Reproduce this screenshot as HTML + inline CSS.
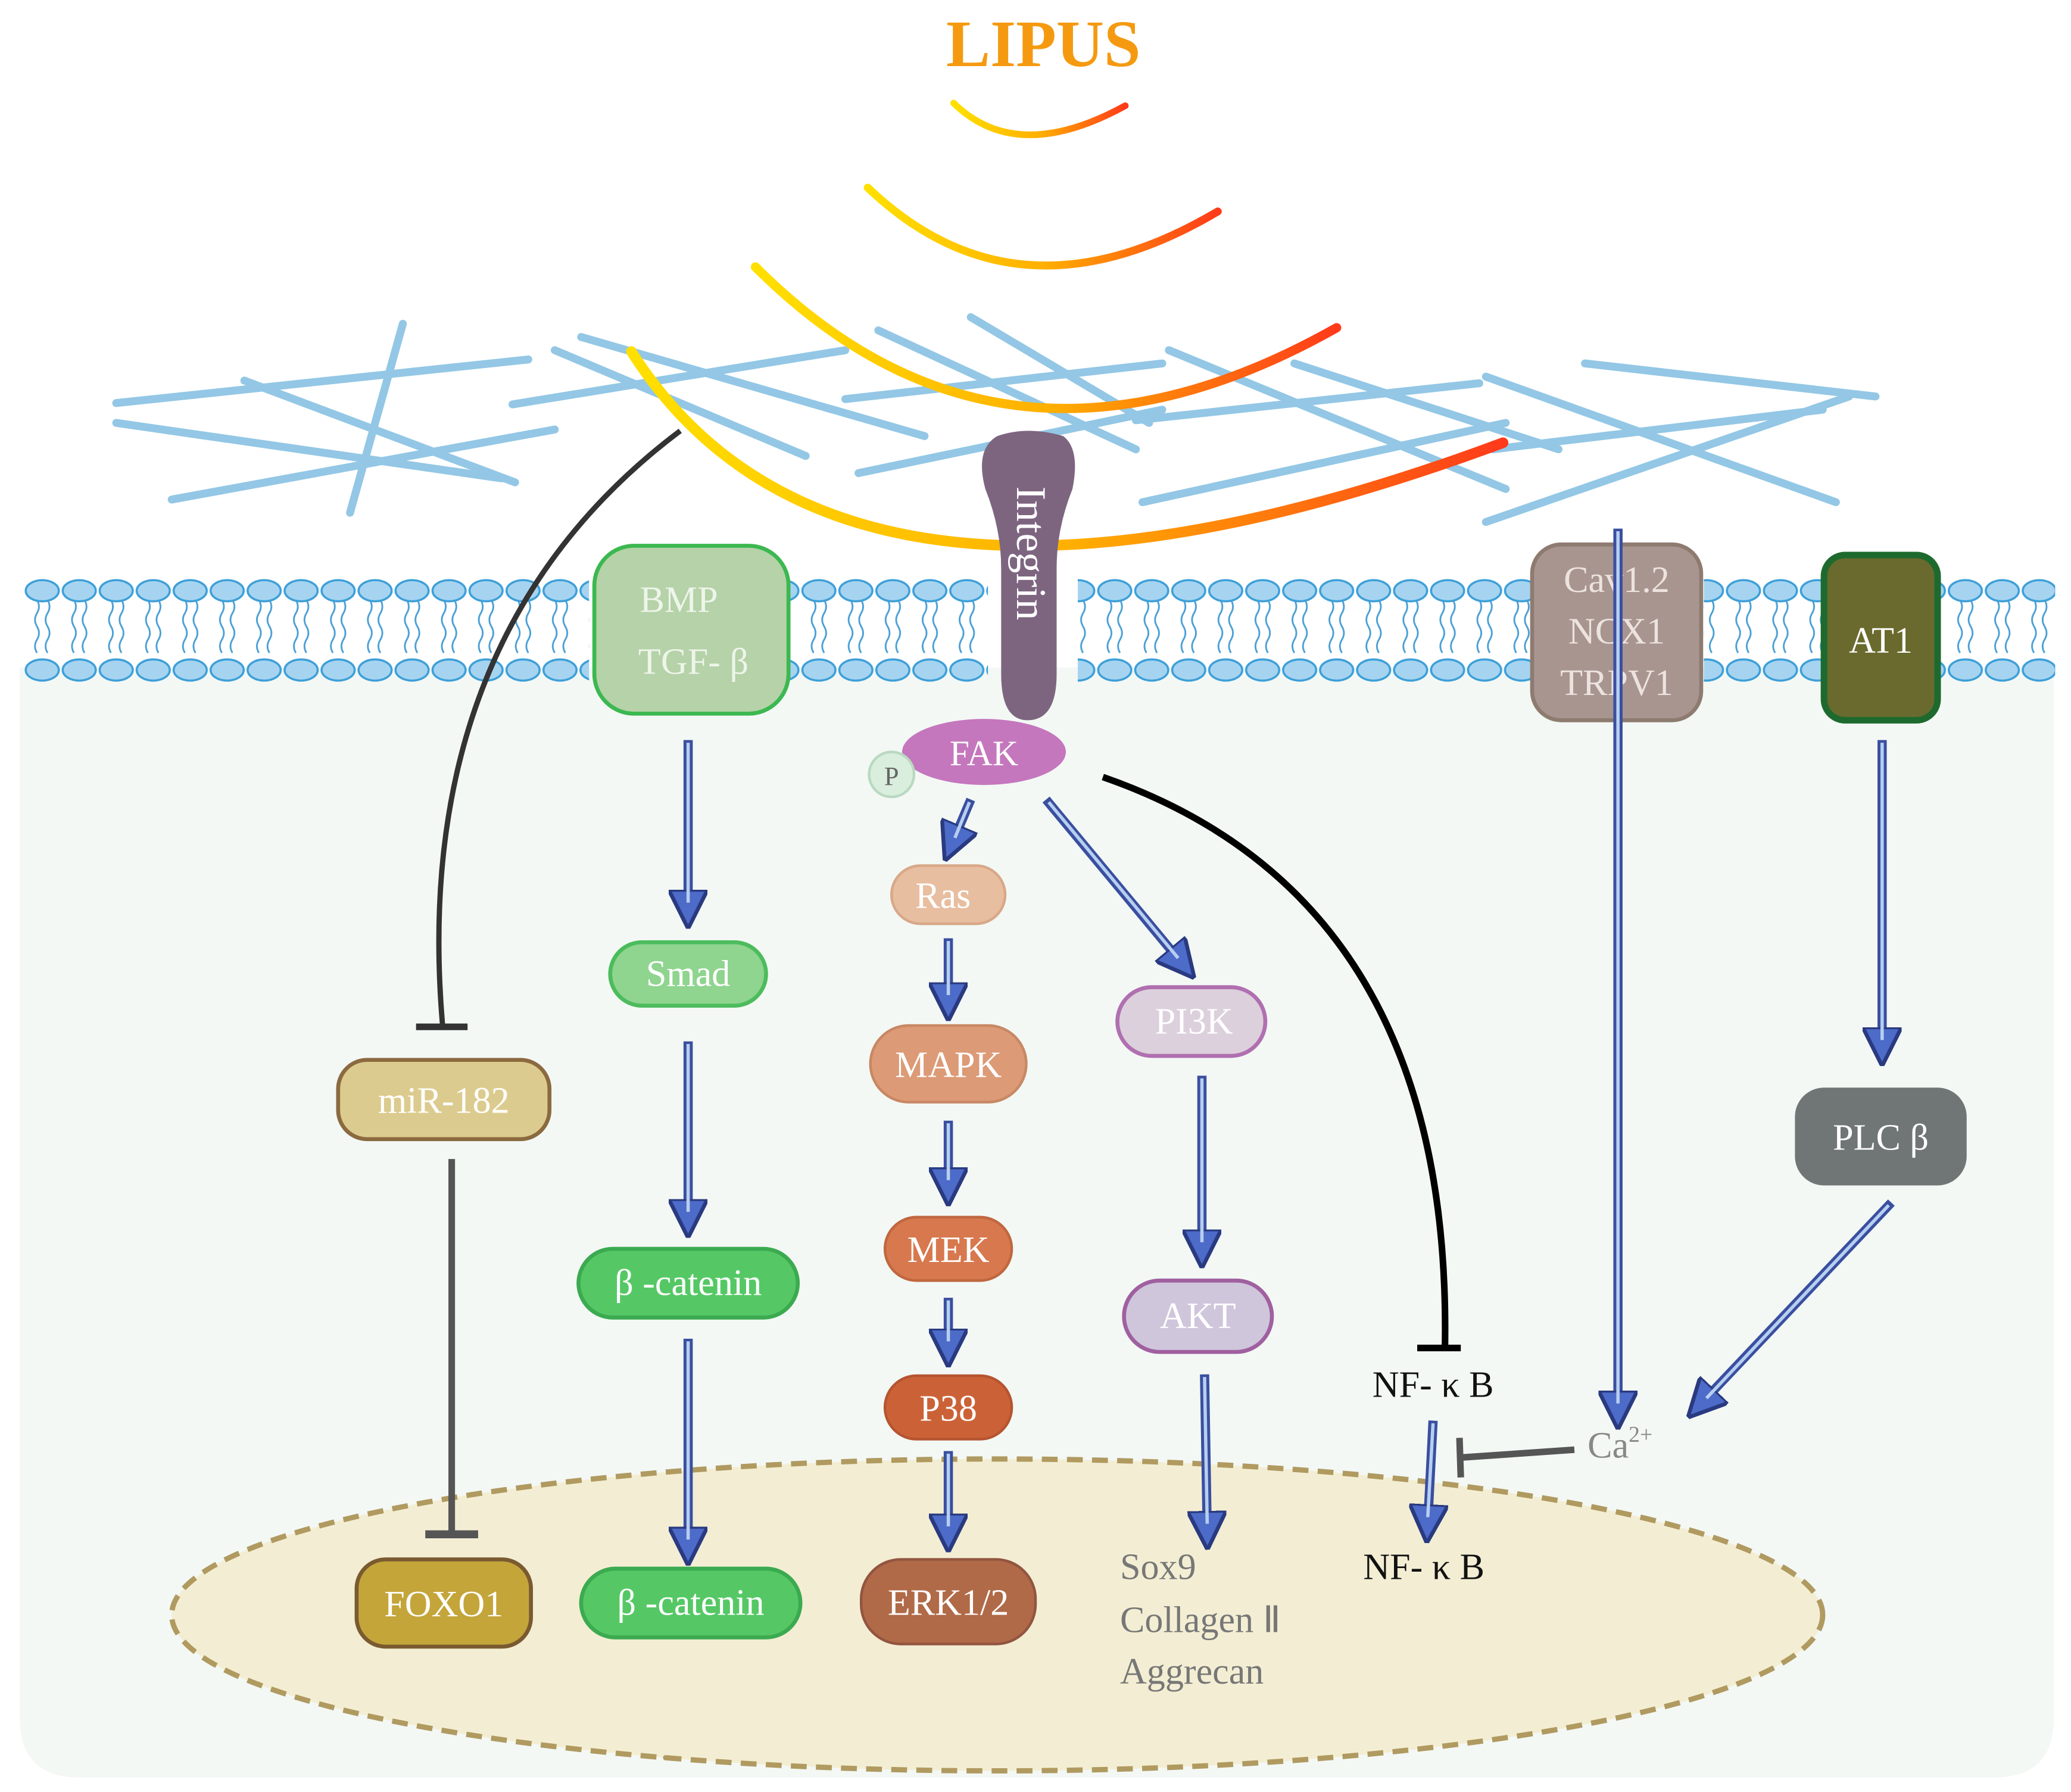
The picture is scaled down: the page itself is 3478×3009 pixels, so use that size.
<!DOCTYPE html>
<html><head><meta charset="utf-8"><style>
html,body{margin:0;padding:0;background:#fff;}
svg{display:block;}
text{font-family:"Liberation Serif",serif;}
</style></head><body>
<svg width="3478" height="3009" viewBox="0 0 1568 1356" preserveAspectRatio="none" xmlns="http://www.w3.org/2000/svg">
<defs>
<linearGradient id="wave" x1="0" y1="0" x2="1" y2="0">
<stop offset="0" stop-color="#ffe000"/><stop offset="0.5" stop-color="#ffb000"/><stop offset="1" stop-color="#ff3a1a"/>
</linearGradient>
<marker id="ah" viewBox="0 0 10 10" refX="5" refY="5" markerWidth="4.2" markerHeight="4.2" orient="auto" markerUnits="strokeWidth">
<path d="M0,0 L10,5 L0,10 z" fill="#4d6bc8" stroke="#2a3a80" stroke-width="1"/>
</marker>
<pattern id="lip" x="18" y="436" width="28" height="82" patternUnits="userSpaceOnUse">
<path d="M10,18 q3,5 0,10 q-3,5 0,10 q3,5 0,10 q-3,5 0,10 M18,18 q3,5 0,10 q-3,5 0,10 q3,5 0,10 q-3,5 0,10" fill="none" stroke="#4a9fd5" stroke-width="1.3"/>
<ellipse cx="14" cy="11" rx="12.5" ry="8" fill="#a6d4f0" stroke="#3d9fd8" stroke-width="1.6"/>
<ellipse cx="14" cy="71" rx="12.5" ry="8" fill="#a6d4f0" stroke="#3d9fd8" stroke-width="1.6"/>
</pattern>
</defs>
<rect width="1568" height="1356" fill="#fff"/>
<!-- cell -->
<path d="M15,505 L1555,505 L1555,1300 Q1555,1345 1510,1345 L60,1345 Q15,1345 15,1300 Z" fill="#f3f8f5"/>
<!-- fibers -->
<g stroke="#6fb5dd" stroke-width="6" opacity="0.75" stroke-linecap="round">
<line x1="88" y1="305" x2="400" y2="272"/><line x1="88" y1="320" x2="380" y2="362"/>
<line x1="130" y1="378" x2="420" y2="325"/><line x1="185" y1="288" x2="390" y2="365"/>
<line x1="305" y1="245" x2="265" y2="388"/><line x1="388" y1="306" x2="640" y2="265"/>
<line x1="420" y1="265" x2="610" y2="345"/><line x1="440" y1="255" x2="700" y2="330"/>
<line x1="640" y1="302" x2="880" y2="275"/><line x1="650" y1="358" x2="880" y2="310"/>
<line x1="665" y1="250" x2="860" y2="340"/><line x1="735" y1="240" x2="870" y2="320"/>
<line x1="860" y1="318" x2="1120" y2="290"/><line x1="865" y1="380" x2="1140" y2="320"/>
<line x1="885" y1="265" x2="1140" y2="370"/><line x1="980" y1="275" x2="1180" y2="340"/>
<line x1="1125" y1="285" x2="1390" y2="380"/><line x1="1125" y1="395" x2="1400" y2="300"/>
<line x1="1200" y1="275" x2="1420" y2="300"/><line x1="1130" y1="340" x2="1380" y2="310"/>
</g>
<!-- waves -->
<g fill="none" stroke="url(#wave)" stroke-linecap="round">
<path d="M722,78 Q770,125 852,80" stroke-width="5"/>
<path d="M657,142 Q770,250 922,160" stroke-width="6"/>
<path d="M572,202 Q760,390 1012,248" stroke-width="7"/>
<path d="M478,266 Q640,520 1138,335" stroke-width="8"/>
</g>
<text x="790" y="50" font-size="50" font-weight="bold" fill="#f59a10" text-anchor="middle">LIPUS</text>
<!-- membrane -->
<g fill="url(#lip)">
<rect x="18" y="436" width="428" height="82"/>
<rect x="598" y="436" width="150" height="82"/>
<rect x="816" y="436" width="344" height="82"/>
<rect x="1290" y="436" width="90" height="82"/>
<rect x="1468" y="436" width="88" height="82"/>
</g>
<!-- nucleus -->
<ellipse cx="755" cy="1222" rx="625" ry="118" fill="#f3eed3" stroke="#b09a60" stroke-width="4" stroke-dasharray="12,7"/>
<!-- receptors -->
<rect x="450" y="413" width="147" height="127" rx="30" fill="#b5d2a8" stroke="#3cb850" stroke-width="3"/>
<text x="514" y="463" font-size="28" fill="#eef5ea" text-anchor="middle">BMP</text>
<text x="525" y="510" font-size="28" fill="#eef5ea" text-anchor="middle">TGF- β</text>
<path d="M755,330 Q778,322 805,330 Q818,340 812,370 Q800,400 800,430 L800,510 Q800,545 778,545 Q758,545 758,510 L758,430 Q758,400 746,370 Q738,340 755,330 Z" fill="#7d6580"/>
<text transform="translate(770,368) rotate(90)" font-size="32" fill="#fff">Integrin</text>
<rect x="1160" y="412" width="128" height="133" rx="22" fill="#a99590" stroke="#8e7b70" stroke-width="3"/>
<text x="1224" y="448" font-size="28" fill="#ece3df" text-anchor="middle">Cav1.2</text>
<text x="1224" y="487" font-size="28" fill="#ece3df" text-anchor="middle">NCX1</text>
<text x="1224" y="526" font-size="28" fill="#ece3df" text-anchor="middle">TRPV1</text>
<rect x="1381" y="420" width="86" height="125" rx="16" fill="#6b6a2e" stroke="#1e6a2e" stroke-width="5"/>
<text x="1424" y="494" font-size="28" fill="#fff" text-anchor="middle">AT1</text>
<ellipse cx="745" cy="569" rx="62" ry="25" fill="#c577bd"/>
<text x="745" y="579" font-size="27" fill="#fff" text-anchor="middle">FAK</text>
<circle cx="675" cy="586" r="17" fill="#d9eedd" stroke="#b9d9c0" stroke-width="2"/>
<text x="675" y="594" font-size="20" fill="#666" text-anchor="middle">P</text>
<!-- inhibition lines -->
<g fill="none" stroke-linecap="butt">
<path d="M515,326 Q310,480 335,775" stroke="#333" stroke-width="4"/>
<line x1="315" y1="777" x2="354" y2="777" stroke="#333" stroke-width="5"/>
<line x1="342" y1="877" x2="342" y2="1160" stroke="#555" stroke-width="5"/>
<line x1="322" y1="1161" x2="362" y2="1161" stroke="#555" stroke-width="6"/>
<path d="M835,588 Q1100,680 1094,1020" stroke="#000" stroke-width="5"/>
<line x1="1073" y1="1020" x2="1106" y2="1020" stroke="#000" stroke-width="5"/>
<line x1="1192" y1="1097" x2="1105" y2="1103" stroke="#555" stroke-width="5"/>
<line x1="1105" y1="1088" x2="1106" y2="1118" stroke="#555" stroke-width="5"/>
</g>
<!-- arrows -->
<g fill="none">
<g stroke="#3a4fa0" stroke-width="7" marker-end="url(#ah)">
<line x1="521" y1="560" x2="521" y2="688"/><line x1="521" y1="788" x2="521" y2="922"/>
<line x1="521" y1="1013" x2="521" y2="1170"/><line x1="735" y1="605" x2="721" y2="638"/>
<line x1="718" y1="710" x2="718" y2="758"/><line x1="718" y1="848" x2="718" y2="898"/>
<line x1="718" y1="982" x2="718" y2="1020"/><line x1="718" y1="1098" x2="718" y2="1160"/>
<line x1="792" y1="605" x2="895" y2="729"/><line x1="910" y1="814" x2="910" y2="945"/>
<line x1="912" y1="1040" x2="914" y2="1158"/><line x1="1425" y1="560" x2="1425" y2="792"/>
<line x1="1432" y1="910" x2="1288" y2="1062"/><line x1="1225" y1="400" x2="1225" y2="1067"/>
<line x1="1085" y1="1075" x2="1081" y2="1153"/>
</g>
<g stroke="#b7cff0" stroke-width="2.5">
<line x1="521" y1="562" x2="521" y2="683"/><line x1="521" y1="790" x2="521" y2="917"/>
<line x1="521" y1="1015" x2="521" y2="1165"/><line x1="734" y1="607" x2="723" y2="634"/>
<line x1="718" y1="712" x2="718" y2="753"/><line x1="718" y1="850" x2="718" y2="893"/>
<line x1="718" y1="984" x2="718" y2="1015"/><line x1="718" y1="1100" x2="718" y2="1155"/>
<line x1="794" y1="607" x2="892" y2="725"/><line x1="910" y1="816" x2="910" y2="940"/>
<line x1="912" y1="1042" x2="914" y2="1153"/><line x1="1425" y1="562" x2="1425" y2="787"/>
<line x1="1430" y1="912" x2="1292" y2="1058"/><line x1="1225" y1="402" x2="1225" y2="1062"/>
<line x1="1085" y1="1077" x2="1081" y2="1148"/>
</g>
</g>
<!-- nodes -->
<g font-size="28" text-anchor="middle">
<rect x="462" y="713" width="118" height="48" rx="24" fill="#8fd48f" stroke="#4cbc5c" stroke-width="3"/><text x="521" y="746" fill="#fff">Smad</text>
<rect x="438" y="945" width="166" height="52" rx="26" fill="#55c865" stroke="#3caa50" stroke-width="3"/><text x="521" y="980" fill="#fff">β -catenin</text>
<rect x="440" y="1187" width="166" height="52" rx="26" fill="#55c865" stroke="#3caa50" stroke-width="3"/><text x="523" y="1222" fill="#fff">β -catenin</text>
<rect x="256" y="802" width="160" height="60" rx="22" fill="#dccb8e" stroke="#8b6a40" stroke-width="3"/><text x="336" y="842" fill="#fff">miR-182</text>
<rect x="270" y="1180" width="132" height="66" rx="22" fill="#c4a53a" stroke="#7a5a30" stroke-width="3"/><text x="336" y="1223" fill="#fff">FOXO1</text>
<rect x="675" y="655" width="86" height="44" rx="22" fill="#e8bea0" stroke="#d8a888" stroke-width="2"/><text x="714" y="687" fill="#fff">Ras</text>
<rect x="659" y="776" width="118" height="58" rx="29" fill="#dc9a76" stroke="#c88864" stroke-width="2"/><text x="718" y="815" fill="#fff">MAPK</text>
<rect x="670" y="921" width="96" height="48" rx="24" fill="#d7784e" stroke="#c0673f" stroke-width="2"/><text x="718" y="955" fill="#fff">MEK</text>
<rect x="670" y="1041" width="96" height="48" rx="24" fill="#cb6237" stroke="#b55530" stroke-width="2"/><text x="718" y="1075" fill="#fff">P38</text>
<rect x="652" y="1180" width="132" height="64" rx="30" fill="#b06a48" stroke="#925540" stroke-width="2"/><text x="718" y="1222" fill="#fff">ERK1/2</text>
<rect x="846" y="747" width="112" height="52" rx="26" fill="#dcd0dc" stroke="#b070b0" stroke-width="3"/><text x="904" y="782" fill="#fff">PI3K</text>
<rect x="851" y="969" width="112" height="54" rx="27" fill="#cfc6dc" stroke="#a060a0" stroke-width="3"/><text x="907" y="1005" fill="#fff">AKT</text>
<rect x="1359" y="823" width="130" height="74" rx="22" fill="#707575"/><text x="1424" y="870" fill="#fff">PLC β</text>
</g>
<g font-size="28">
<text x="1085" y="1057" text-anchor="middle" fill="#111">NF- κ B</text>
<text x="1078" y="1195" text-anchor="middle" fill="#111">NF- κ B</text>
<text x="1202" y="1103" fill="#888">Ca<tspan font-size="17" dy="-12">2+</tspan></text>
<text x="848" y="1195" fill="#777">Sox9</text>
<text x="848" y="1235" fill="#777">Collagen  Ⅱ</text>
<text x="848" y="1274" fill="#777">Aggrecan</text>
</g>
</svg>
</body></html>
